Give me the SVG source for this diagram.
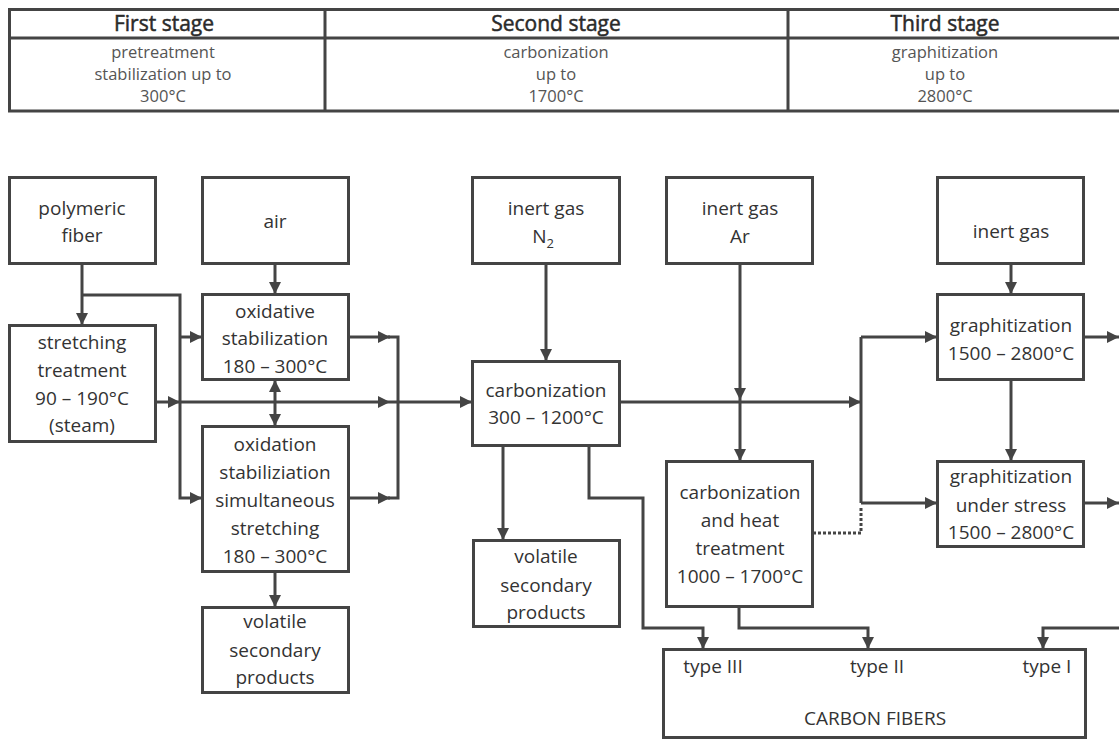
<svg xmlns="http://www.w3.org/2000/svg" width="1119" height="740" viewBox="0 0 1119 740">
<style>
.bx{fill:#fff;stroke:#444;stroke-width:3}
.t{font-family:"Open Sans","Noto Sans",sans-serif;font-size:19px;fill:#333;text-anchor:middle}
.h{font-family:"Open Sans","Noto Sans",sans-serif;font-size:21px;fill:#2a2a2a;stroke:#2a2a2a;stroke-width:0.5;text-anchor:middle}
.s{font-family:"Open Sans","Noto Sans",sans-serif;font-size:16.5px;fill:#555;text-anchor:middle}
.c{fill:none;stroke:#444;stroke-width:3}
.a{marker-end:url(#ah)}
.d{fill:none;stroke:#444;stroke-width:3;stroke-dasharray:3 2}
.tl{fill:none;stroke:#444;stroke-width:3}
</style>
<defs>
<marker id="ah" viewBox="0 0 12 12" refX="12" refY="6" markerWidth="12" markerHeight="12" markerUnits="userSpaceOnUse" orient="auto-start-reverse">
<path d="M0,0 L12,6 L0,12 z" fill="#444"/>
</marker>
</defs>
<rect width="1119" height="740" fill="#fff"/>
<g id="table">
<path class="tl" d="M1119,9.5 H9.5 V111 H1119 M9.5,38 H1119 M325,9.5 V111 M788,9.5 V111"/>
<text class="h" x="164" y="31">First stage</text>
<text class="h" x="556" y="31">Second stage</text>
<text class="h" x="945" y="31">Third stage</text>
<text class="s"><tspan x="163" y="58">pretreatment</tspan><tspan x="163" y="80">stabilization up to</tspan><tspan x="163" y="102">300°C</tspan></text>
<text class="s"><tspan x="556" y="58">carbonization</tspan><tspan x="556" y="80">up to</tspan><tspan x="556" y="102">1700°C</tspan></text>
<text class="s"><tspan x="945" y="58">graphitization</tspan><tspan x="945" y="80">up to</tspan><tspan x="945" y="102">2800°C</tspan></text>
</g>
<g id="connectors">
<path class="c a" d="M82,264 V325"/>
<path class="c a" d="M82,295 H180 V498 H202"/>
<path class="c a" d="M180,337 H202"/>
<path class="c a" d="M275,264 V294"/>
<path class="c a" d="M275,380 V426" marker-start="url(#ah)"/>
<path class="c a" d="M275,572 V607"/>
<path class="c a" d="M156,402 H180"/>
<path class="c a" d="M180,402 H390"/>
<path class="c a" d="M390,402 H472"/>
<path class="c a" d="M349,337 H390"/>
<path class="c a" d="M349,498 H390"/>
<path class="c" d="M388,337 H398 V498 H388"/>
<path class="c a" d="M546,264 V361"/>
<path class="c a" d="M620,402 H861"/>
<path class="c" d="M861,337 V503"/>
<path class="c a" d="M861,337 H937"/>
<path class="c a" d="M861,503 H937"/>
<path class="c a" d="M740,264 V400"/>
<path class="c a" d="M740,400 V461"/>
<path class="d" d="M813,533 H861 V507"/>
<path class="c a" d="M1011,264 V294"/>
<path class="c a" d="M1011,380 V461"/>
<path class="c a" d="M1084,337 H1119"/>
<path class="c a" d="M1084,503 H1119"/>
<path class="c a" d="M503,446 V540"/>
<path class="c a" d="M589,446 V498 H643 V628 H703 V649"/>
<path class="c a" d="M739,607 V628 H868 V649"/>
<path class="c a" d="M1122,628 H1043 V649"/>
</g>
<g id="polymeric-fiber"><rect class="bx" x="9.5" y="177.5" width="146" height="86"/><text class="t"><tspan x="82" y="215">polymeric</tspan><tspan x="82" y="242">fiber</tspan></text></g>
<g id="air"><rect class="bx" x="202.5" y="177.5" width="146" height="86"/><text class="t" x="275" y="228">air</text></g>
<g id="oxidative-stabilization"><rect class="bx" x="202.5" y="294.5" width="146" height="85"/><text class="t"><tspan x="275" y="318">oxidative</tspan><tspan x="275" y="345">stabilization</tspan><tspan x="275" y="373">180 – 300°C</tspan></text></g>
<g id="stretching-treatment"><rect class="bx" x="9.5" y="325.5" width="146" height="116"/><text class="t"><tspan x="82" y="349">stretching</tspan><tspan x="82" y="377">treatment</tspan><tspan x="82" y="405">90 – 190°C</tspan><tspan x="82" y="432">(steam)</tspan></text></g>
<g id="oxidation-stretching"><rect class="bx" x="202.5" y="426.5" width="146" height="145"/><text class="t"><tspan x="275" y="451">oxidation</tspan><tspan x="275" y="479">stabiliziation</tspan><tspan x="275" y="507">simultaneous</tspan><tspan x="275" y="535">stretching</tspan><tspan x="275" y="563">180 – 300°C</tspan></text></g>
<g id="volatile-1"><rect class="bx" x="202.5" y="607.5" width="146" height="85"/><text class="t"><tspan x="275" y="628">volatile</tspan><tspan x="275" y="657">secondary</tspan><tspan x="275" y="684">products</tspan></text></g>
<g id="inert-gas-n2"><rect class="bx" x="472.5" y="177.5" width="147" height="86"/><text class="t"><tspan x="546" y="215">inert gas</tspan><tspan x="543" y="243">N<tspan font-size="13" dy="5">2</tspan></tspan></text></g>
<g id="inert-gas-ar"><rect class="bx" x="666.5" y="177.5" width="146" height="86"/><text class="t"><tspan x="740" y="215">inert gas</tspan><tspan x="740" y="243">Ar</tspan></text></g>
<g id="carbonization"><rect class="bx" x="472.5" y="361.5" width="147" height="84"/><text class="t"><tspan x="546" y="397">carbonization</tspan><tspan x="546" y="424">300 – 1200°C</tspan></text></g>
<g id="volatile-2"><rect class="bx" x="473.5" y="540.5" width="146" height="86"/><text class="t"><tspan x="546" y="563">volatile</tspan><tspan x="546" y="592">secondary</tspan><tspan x="546" y="619">products</tspan></text></g>
<g id="carbonization-heat"><rect class="bx" x="666.5" y="461.5" width="146" height="145"/><text class="t"><tspan x="740" y="499">carbonization</tspan><tspan x="740" y="527">and heat</tspan><tspan x="740" y="555">treatment</tspan><tspan x="740" y="583">1000 – 1700°C</tspan></text></g>
<g id="inert-gas-3"><rect class="bx" x="937.5" y="177.5" width="146" height="86"/><text class="t" x="1011" y="238">inert gas</text></g>
<g id="graphitization"><rect class="bx" x="937.5" y="294.5" width="146" height="85"/><text class="t"><tspan x="1011" y="332">graphitization</tspan><tspan x="1011" y="360">1500 – 2800°C</tspan></text></g>
<g id="graphitization-stress"><rect class="bx" x="937.5" y="461.5" width="146" height="85"/><text class="t"><tspan x="1011" y="483">graphitization</tspan><tspan x="1011" y="512">under stress</tspan><tspan x="1011" y="539">1500 – 2800°C</tspan></text></g>
<g id="carbon-fibers"><rect class="bx" x="663.5" y="649.5" width="422" height="88"/><text class="t" x="713" y="673">type III</text><text class="t" x="877" y="673">type II</text><text class="t" x="1047" y="673">type I</text><text class="t" x="875" y="725">CARBON FIBERS</text></g>
</svg>
